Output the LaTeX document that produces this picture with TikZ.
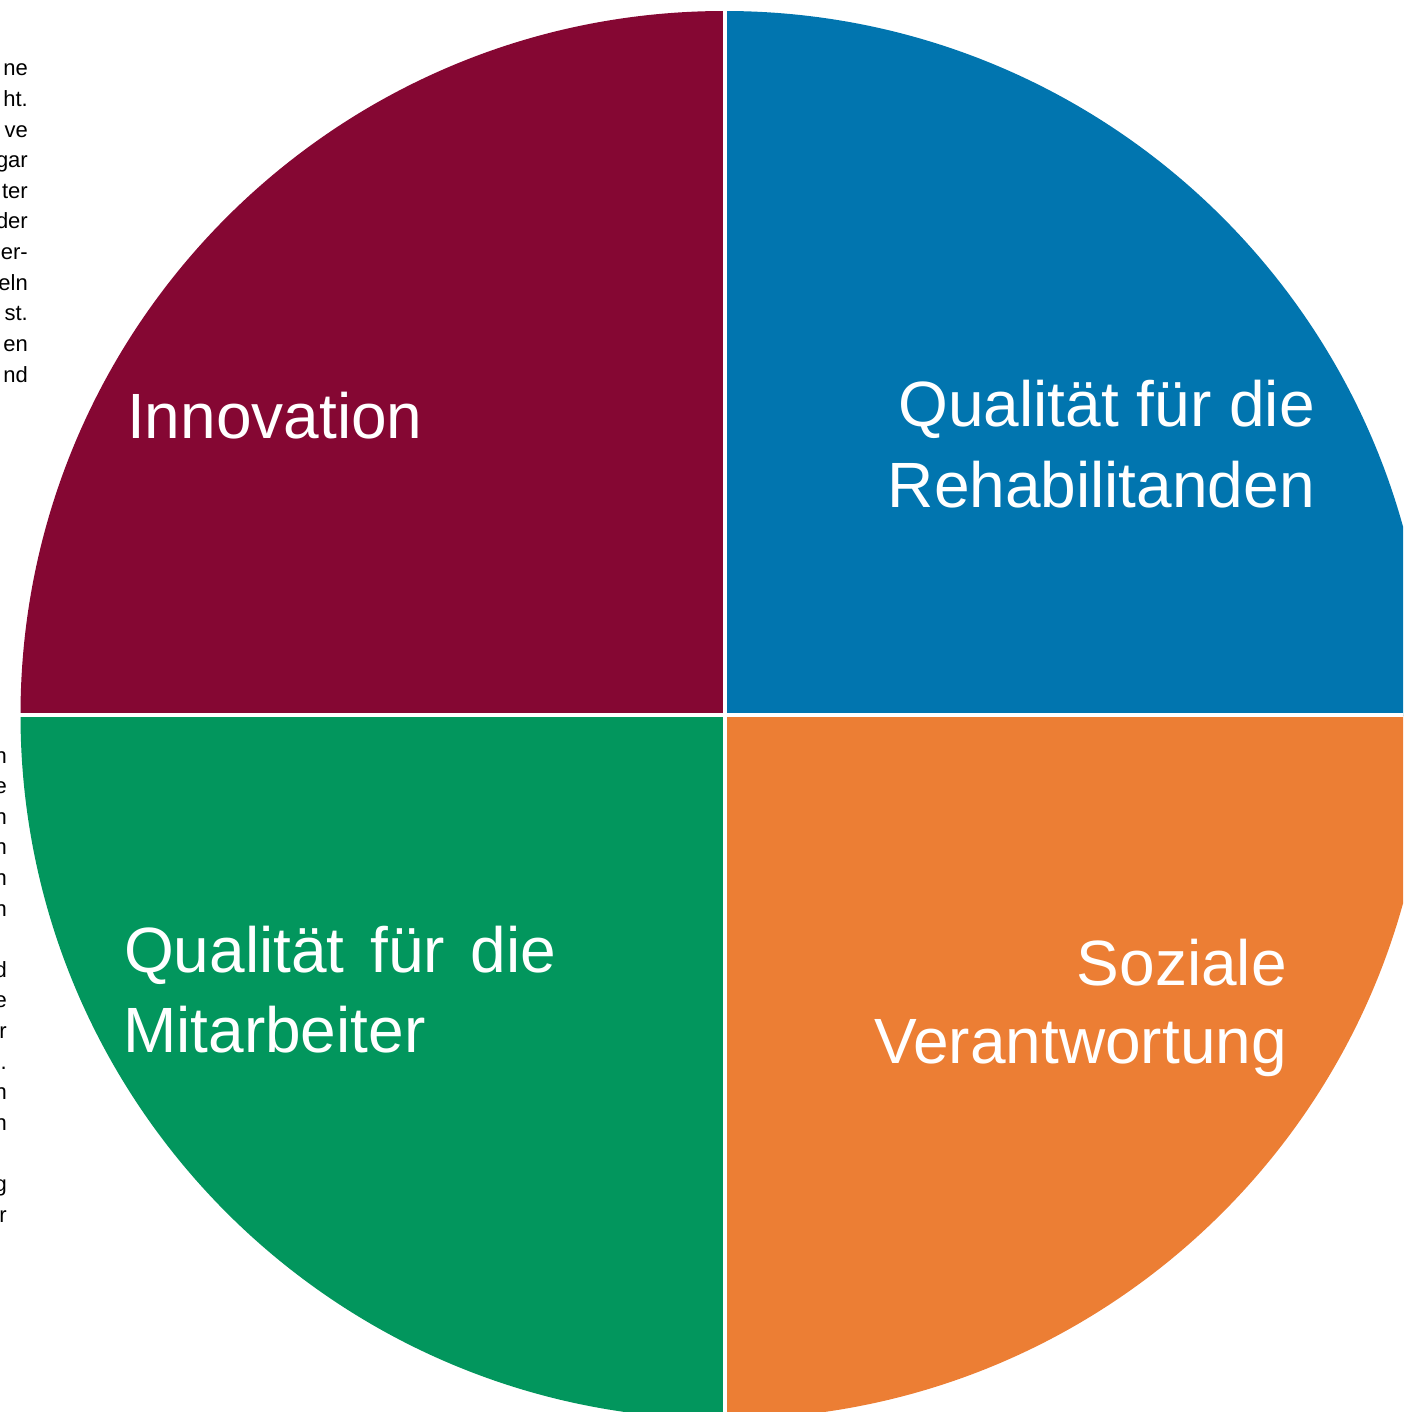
\documentclass[tikz,border=0pt]{standalone}
\usepackage{fontspec}
\setmainfont{Liberation Sans}
\definecolor{cmaroon}{RGB}{133,7,51}
\definecolor{cblue}{RGB}{1,117,175}
\definecolor{cgreen}{RGB}{2,150,93}
\definecolor{corange}{RGB}{236,126,52}
\begin{document}
\begin{tikzpicture}[x=1pt,y=-1pt,
  biglabel/.style={text=white,inner sep=0pt,font=\fontsize{64}{80}\selectfont},
  smalltext/.style={text=black,inner sep=0pt,anchor=base east,font=\fontsize{22}{30}\selectfont}]
\useasboundingbox (0,0) rectangle (1403,1412);
\begin{scope}
\clip (0,0) rectangle (1403,1412);
\coordinate (c) at (724.5,715);
% quadrants
\begin{scope}
\clip (0,0) rectangle (724.5,715);
\fill[cmaroon] (c) circle[radius=704];
\end{scope}
\begin{scope}
\clip (724.5,0) rectangle (1403,715);
\fill[cblue] (c) circle[radius=704];
\end{scope}
\begin{scope}
\clip (724.5,715) rectangle (1403,1412);
\fill[corange] (c) circle[radius=704];
\end{scope}
\begin{scope}
\clip (0,715) rectangle (724.5,1412);
\fill[cgreen] (c) circle[radius=704];
\end{scope}
% white separators
\coordinate (vt) at (724.7,0);
\coordinate (vb) at (724.7,1412);
\coordinate (hl) at (0,715);
\coordinate (hr) at (1403,715);
\draw[white,line width=4pt] (vt) -- (vb);
\draw[white,line width=4pt] (hl) -- (hr);
% labels
\node[biglabel,anchor=base west] (inn) at (127,438) {Innovation};
\node[biglabel,anchor=base east] (reh1) at (1315,426) {Qualität für die};
\node[biglabel,anchor=base east] (reh2) at (1315,507) {Rehabilitanden};
\node[biglabel,anchor=base west] (mit1) at (124,972) {\makebox[432pt][s]{Qualität für die}};
\node[biglabel,anchor=base west] (mit2) at (123,1052) {Mitarbeiter};
\node[biglabel,anchor=base east] (soz1) at (1287,985) {Soziale};
\node[biglabel,anchor=base east] (soz2) at (1287,1063) {Verantwortung};
% small text fragments, top left
\node[smalltext] (t1) at (28,76) {ne};
\node[smalltext] (t2) at (28,106.6) {ht.};
\node[smalltext] (t3) at (28,137.2) {ve};
\node[smalltext] (t4) at (28,167.8) {gar};
\node[smalltext] (t5) at (28,198.4) {ter};
\node[smalltext] (t6) at (28,229) {der};
\node[smalltext] (t7) at (28,259.6) {er-};
\node[smalltext] (t8) at (28,290.2) {eln};
\node[smalltext] (t9) at (28,320.8) {st.};
\node[smalltext] (t10) at (28,351.4) {en};
\node[smalltext] (t11) at (28,382) {nd};
% small text fragments, bottom left
\node[smalltext] (b1) at (7,763) {n};
\node[smalltext] (b2) at (7,793.6) {e};
\node[smalltext] (b3) at (7,824.2) {n};
\node[smalltext] (b4) at (7,854.8) {n};
\node[smalltext] (b5) at (7,885.4) {n};
\node[smalltext] (b6) at (7,916) {n};
\node[smalltext] (b7) at (7,977.2) {d};
\node[smalltext] (b8) at (7,1007.8) {e};
\node[smalltext] (b9) at (7,1038.4) {r};
\node[smalltext] (b10) at (7,1069) {.};
\node[smalltext] (b11) at (7,1099.6) {n};
\node[smalltext] (b12) at (7,1130.2) {n};
\node[smalltext] (b13) at (7,1191.4) {g};
\node[smalltext] (b14) at (7,1222) {r};
\end{scope}
\end{tikzpicture}
\end{document}
